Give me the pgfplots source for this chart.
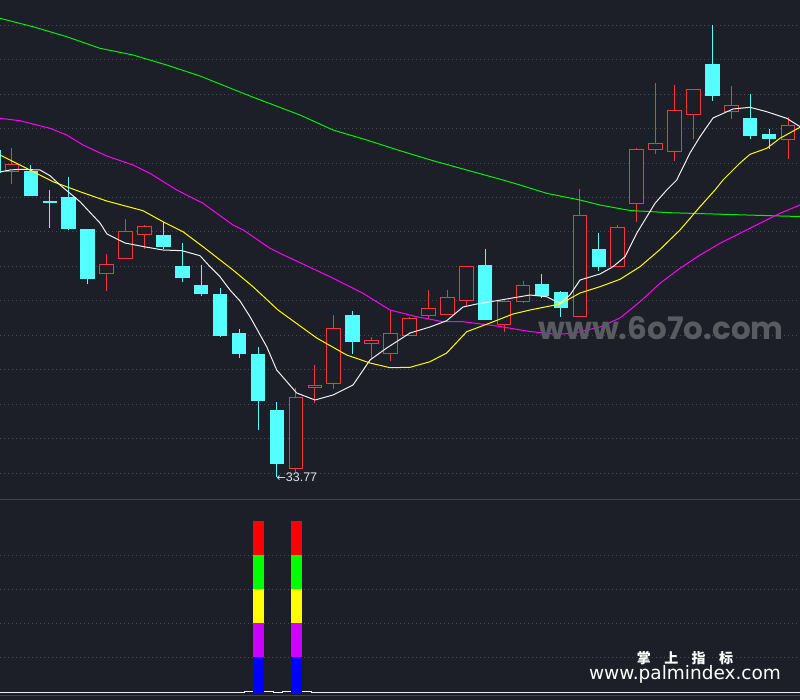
\documentclass[border=0pt]{standalone}
\usepackage{pgfplots}
\pgfplotsset{compat=1.18}
\usepackage{pgfplotstable}
\usepackage{fontspec}
\setmainfont{Liberation Sans}
\newfontfamily\dejavu{DejaVu Sans}
\newfontfamily\cjk{Noto Sans CJK SC}
\newfontfamily\wmfont{Poppins}
\definecolor{bg}{RGB}{28,31,39}
\definecolor{gridc}{RGB}{72,76,86}
\definecolor{sepc}{RGB}{62,66,76}
\definecolor{dnc}{RGB}{84,255,255}
\definecolor{upc}{RGB}{250,55,55}
\definecolor{ma5}{RGB}{240,240,240}
\definecolor{ma10}{RGB}{255,255,0}
\definecolor{ma20}{RGB}{255,0,255}
\definecolor{ma60}{RGB}{0,240,0}
\definecolor{wm}{RGB}{88,91,98}
\definecolor{lbl}{RGB}{215,228,240}
\definecolor{ired}{RGB}{255,0,0}
\definecolor{igreen}{RGB}{0,255,0}
\definecolor{iyellow}{RGB}{255,255,0}
\definecolor{ipurple}{RGB}{204,0,255}
\definecolor{iblue}{RGB}{0,0,255}

% candles in screen units (x = centre, y grows downward)
\pgfplotstableread{
x o h l c
-6.5 150 145 176 173
30.86 171 165 196 196
49.79 201 190 228 202.5
68.72 197 177 230 229
87.65 229 229 284 279
163.37 235 222 249 247
182.3 266 243 282 278
201.23 285 265 296 294
220.16 294 288 337 336
239.09 333 329 358 354
258.02 354 347 430 401
276.95 410 402 477 464
352.67 315 311 354 342
485.18 265 249 320 320
541.97 284 274 298 296
560.9 292 291 317 308
598.76 249 233 271 267
712.34 64 25 101 96
750.2 118 94 139 136
769.13 134 129 149 139
}\down
\pgfplotstableread{
x o h l c
11.93 172 148 184 165
106.58 274 254 291 265
125.51 259 219 259 232
144.44 235 225 249 227
295.88 468.5 388 472 397
314.81 387.5 365 403 385.5
333.74 384 315 389 329
371.6 343.3 337 358 341
390.53 353.3 311 361 334
409.46 335.3 317 335.3 319
428.39 315.3 290 319 309
447.32 314.3 290 314.3 298
466.25 300.3 267 307 267
504.11 324.7 302 332 302
523.04 301.3 281 303 286
579.83 317 189 317 216
617.69 266.7 225 266.7 228
636.62 203.3 148 222 149.3
655.55 149.3 83 154 143.3
674.48 151.3 85 161 111
693.41 114.3 89.3 139 89.3
731.27 111.7 86 119 105.3
788.06 139.3 117 159.3 125.3
}\up

\pgfplotsset{
  bars/.style={draw=none, no markers, forget plot,
    error bars/.cd, y dir=both, y explicit, error mark=none,
    error bar style={draw=#1, solid}},
}

\begin{document}
\begin{tikzpicture}
\begin{axis}[
  scale only axis, width=800pt, height=700pt,
  xmin=0, xmax=800, ymin=0, ymax=700, y dir=reverse,
  axis line style={draw=none},
  axis background/.style={fill=bg},
  xtick=\empty,
  ytick={25.3,59.7,94.2,128.6,163.1,197.5,232,266.4,300.9,335.3,369.8,404.2,438.7,473.1,555,589,623.3,657.3},
  yticklabels={},
  yticklabel style={inner sep=0pt, outer sep=0pt},
  ymajorgrids,
  major grid style={draw=gridc, line width=1pt, dash pattern=on 1pt off 3pt},
  tick style={draw=none},
  extra y ticks={499.3,695.7},
  extra y tick labels={},
  extra y tick style={grid=major, major grid style={draw=sepc, solid, line width=1.3pt}},
  clip=true,
]
% wicks
\addplot[bars=dnc, error bar style={line width=1pt}]
  table[x=x, y expr={(\thisrow{h}+\thisrow{l})/2}, y error expr={abs(\thisrow{l}-\thisrow{h})/2}] {\down};
\addplot[bars=upc, error bar style={line width=1pt}]
  table[x=x, y expr={(\thisrow{h}+\thisrow{l})/2}, y error expr={abs(\thisrow{l}-\thisrow{h})/2}] {\up};
% bodies
\addplot[bars=dnc, error bar style={line width=14.5pt}]
  table[x=x, y expr={(\thisrow{o}+\thisrow{c})/2}, y error expr={max(abs(\thisrow{o}-\thisrow{c})/2,0.75)}] {\down};
\addplot[bars=upc, error bar style={line width=14.5pt}]
  table[x=x, y expr={(\thisrow{o}+\thisrow{c})/2}, y error expr={max(abs(\thisrow{o}-\thisrow{c})/2+0.5,1)}] {\up};
\addplot[bars=bg, error bar style={line width=12.5pt}]
  table[x=x, y expr={(\thisrow{o}+\thisrow{c})/2}, y error expr={max(abs(\thisrow{o}-\thisrow{c})/2-0.5,0)}] {\up};

% moving averages
\addplot[ma60, line width=1pt, line join=round, no markers] coordinates {
(0,18.3) (33,26.7) (66.7,36.7) (100,48.3) (133,55) (166.7,65) (200,76) (250,96) (300,115) (333,130) (366.7,140) (400,150.7) (433,160.7) (466.7,170) (503,180) (520,185) (546.7,193.3) (580,200) (600,205) (630,210.5) (670,212.7) (723,214.3) (780,216) (800,216.5)};
\addplot[ma20, line width=1pt, line join=round, no markers] coordinates {
(0,118.3) (20,120.7) (50,128.3) (66.7,135) (83,145) (106.7,156) (133,165) (150,173.3) (176.7,190) (203,203.3) (233,225) (243.3,230) (270,248.3) (280,253.3) (330,276.7) (363,293.3) (390,310) (416.7,316.7) (443,321.7) (463,321.7) (496.7,326) (530,331.5) (556.7,334.3) (573,333.3) (600,327) (620,318) (640,301.7) (660,283.3) (680,268.3) (700,255) (720,243.3) (740,233.3) (760,223.3) (780,213.3) (800,205)};
\addplot[ma10, line width=1pt, line join=round, no markers] coordinates {
(0,155) (30,170) (53,181.7) (80,191.7) (106.7,201) (143,210.7) (163,221.7) (183,231.7) (203,246.7) (233,270) (253,286.7) (278,310) (316.7,338) (346.7,355) (370,363) (390,367.7) (410,367.3) (430,361.7) (446.7,353) (466.7,331.7) (490,323) (513,314) (530,310) (560,304) (580,293) (600,286.7) (620,279.3) (640,266.7) (660,249.5) (680,230) (700,206.7) (715,190) (723,180) (740,163) (750,154.3) (766.7,148.3) (780,138.3) (800,127.3)};
\addplot[ma5, line width=1pt, line join=round, no markers] coordinates {
(0,172) (10,170) (20,169.3) (40,170) (50,175.7) (60,185) (80,201.7) (100,223) (107,234) (125,243) (144,246.7) (163,250) (182,250.7) (200,255.7) (210,266.7) (220,276.7) (230,290) (240,301) (250,316.7) (266.7,346.7) (276.7,370) (296.7,393) (315,400) (333,395) (353,385) (370,360) (386.7,348) (410,333) (430,327) (446.7,320.7) (463,307) (476.7,304) (496.7,300.7) (530,295) (546.7,296.7) (560,303.3) (570,295) (580,280) (600,274) (613,266.7) (625,256.7) (636.7,233.3) (655,203.3) (666.7,190) (676.7,180) (690,153) (700,136.7) (713,118) (733,109) (750,107.3) (766.7,111.7) (786.7,118.3) (800,126.7)};

% lower indicator
\addplot[const plot, ma5, line width=1pt, no markers] coordinates {(0,692.3) (244,691.3) (273,692.3) (282,691.3) (311,692.3) (800,692.3)};
\addplot[bars=ired, error bar style={line width=11pt}] coordinates {(258.5,538) +- (0,17) (296.5,538) +- (0,17)};
\addplot[bars=igreen, error bar style={line width=11pt}] coordinates {(258.5,572) +- (0,17) (296.5,572) +- (0,17)};
\addplot[bars=iyellow, error bar style={line width=11pt}] coordinates {(258.5,606) +- (0,17) (296.5,606) +- (0,17)};
\addplot[bars=ipurple, error bar style={line width=11pt}] coordinates {(258.5,640) +- (0,17) (296.5,640) +- (0,17)};
\addplot[bars=iblue, error bar style={line width=11pt}] coordinates {(258.5,675) +- (0,18) (296.5,675) +- (0,18)};

% annotations
\node[anchor=west, inner sep=0pt, text=lbl] at (axis cs:276.5,477) {{\dejavu\fontsize{11}{11}\selectfont ←}{\fontsize{12.5}{12.5}\selectfont 33.77}};
\node[anchor=base, inner sep=0pt, text=wm, font=\wmfont\bfseries\fontsize{31}{31}\selectfont] at (axis cs:661,339.5) {www.6o7o.com};
\node[anchor=center, inner sep=0pt, text=white, font=\cjk\bfseries\fontsize{14}{14}\selectfont] at (axis cs:685,658) {掌\hspace{13.4pt}上\hspace{13.4pt}指\hspace{13.4pt}标};
\node[anchor=base, inner sep=0pt, text=white, font=\dejavu\fontsize{18.5}{18.5}\selectfont] at (axis cs:685,679.3) {www.palmindex.com};
\end{axis}
\pgfresetboundingbox
\useasboundingbox (current axis.south west) rectangle (current axis.north east);
\end{tikzpicture}
\end{document}
